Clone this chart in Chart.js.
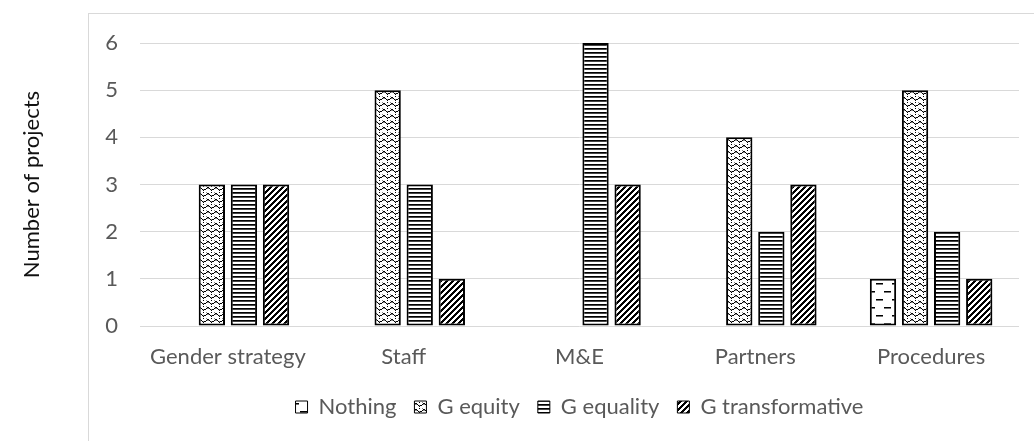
<!DOCTYPE html>
<html>
<head>
<meta charset="utf-8">
<script src="https://cdn.jsdelivr.net/npm/chart.js@4/dist/chart.umd.min.js"></script>
<style>
  html, body { margin: 0; padding: 0; background: #fff; }
  canvas { display: block; }
</style>
</head>
<body>
<canvas id="c" width="1034" height="441"></canvas>
<script>
// Project elements and how many projects reach each gender level
const categories = ['Gender strategy', 'Staff', 'M&E', 'Partners', 'Procedures'];
const nothing = [0, 0, 0, 0, 1];
const gEquity = [3, 5, 0, 4, 5];
const gEquality = [3, 3, 6, 2, 2];
const gTransformative = [3, 1, 3, 3, 1];
const yTicks = [0, 1, 2, 3, 4, 5, 6];

const FONT = 'Lato, "Noto Sans", sans-serif';
const TEXT_GREY = '#595959';
const FONT_SIZE = 22;

const canvas = document.getElementById('c');
const ctx = canvas.getContext('2d');

// Small black-and-white hatch tiles used as bar fills
function tile(w, h, paint) {
  const t = document.createElement('canvas');
  t.width = w; t.height = h;
  const g = t.getContext('2d');
  g.fillStyle = '#fff';
  g.fillRect(0, 0, w, h);
  g.fillStyle = '#000';
  paint(g, w, h);
  return ctx.createPattern(t, 'repeat');
}

function dots(g, pts, colour) {
  g.fillStyle = colour;
  pts.forEach(([x, y]) => g.fillRect(x, y, 1, 1));
}

// short staggered dashes
const dashPattern = tile(16, 16, g => {
  g.fillRect(4, 3, 7, 1);
  g.fillRect(12, 11, 4, 1); g.fillRect(0, 11, 3, 1);
  g.fillStyle = '#777';
  g.fillRect(4, 4, 7, 1);
  g.fillRect(12, 12, 4, 1); g.fillRect(0, 12, 3, 1);
});

// dotted waves
const wavePattern = tile(8, 6, g => {
  dots(g, [[0, 1], [1, 2], [2, 3], [4, 3], [5, 3], [6, 2], [7, 1], [3, 0], [3, 4]], '#000');
  dots(g, [[3, 3], [0, 2], [7, 2], [6, 0]], '#888');
});

// narrow horizontal lines
const hLinePattern = tile(4, 4, g => {
  g.fillRect(0, 0, 4, 1);
  g.fillStyle = '#444';
  g.fillRect(0, 1, 4, 1);
});

// wide upward diagonal
const diagPattern = tile(6, 6, g => {
  for (let y = 0; y < 6; y++) {
    for (let x = 0; x < 6; x++) {
      if ((x + y) % 6 < 3) g.fillRect(x, y, 1, 1);
    }
  }
});

function series(label, data, fill) {
  return {
    label,
    data,
    backgroundColor: fill,
    borderColor: '#000',
    borderWidth: 2,
    borderSkipped: false,
    categoryPercentage: 0.73,
    barPercentage: 0.82
  };
}

// Light grey frame around the chart region
const framePlugin = {
  id: 'frame',
  beforeDraw(chart) {
    const c = chart.ctx;
    c.save();
    c.fillStyle = '#fff';
    c.fillRect(0, 0, chart.width, chart.height);
    c.strokeStyle = '#d9d9d9';
    c.lineWidth = 1;
    c.strokeRect(88.5, 13.5, 2000, 2000);
    c.restore();
  }
};

new Chart(ctx, {
  type: 'bar',
  data: {
    labels: categories,
    datasets: [
      series('Nothing', nothing, dashPattern),
      series('G equity', gEquity, wavePattern),
      series('G equality', gEquality, hLinePattern),
      series('G transformative', gTransformative, diagPattern)
    ]
  },
  options: {
    responsive: false,
    devicePixelRatio: 1,
    animation: false,
    layout: { padding: { top: 43, right: 15, bottom: 13, left: 0 } },
    scales: {
      x: {
        grid: { display: false },
        border: { display: false },
        ticks: { color: TEXT_GREY, font: { family: FONT, size: FONT_SIZE }, padding: 10, maxRotation: 0 },
        afterFit(scale) { scale.height = 52; }
      },
      y: {
        min: 0,
        max: 6,
        grid: { color: '#d9d9d9', lineWidth: 1, drawTicks: false },
        border: { display: false },
        afterBuildTicks(scale) { scale.ticks = yTicks.map(v => ({ value: v })); },
        ticks: { color: TEXT_GREY, font: { family: FONT, size: FONT_SIZE }, padding: 22 },
        title: {
          display: true,
          text: 'Number of projects',
          color: '#111',
          font: { family: FONT, size: FONT_SIZE },
          padding: { top: 19, bottom: 0 }
        },
        afterFit(scale) { scale.width = 140; }
      }
    },
    plugins: {
      legend: {
        position: 'bottom',
        fullSize: false,
        labels: {
          color: TEXT_GREY,
          font: { family: FONT, size: FONT_SIZE },
          boxWidth: 12,
          boxHeight: 12,
          padding: 18,
          generateLabels(chart) {
            return Chart.defaults.plugins.legend.labels.generateLabels(chart).map(l => {
              l.lineWidth = 1;
              return l;
            });
          }
        }
      },
      tooltip: { enabled: false }
    }
  },
  plugins: [framePlugin]
});
</script>
</body>
</html>
